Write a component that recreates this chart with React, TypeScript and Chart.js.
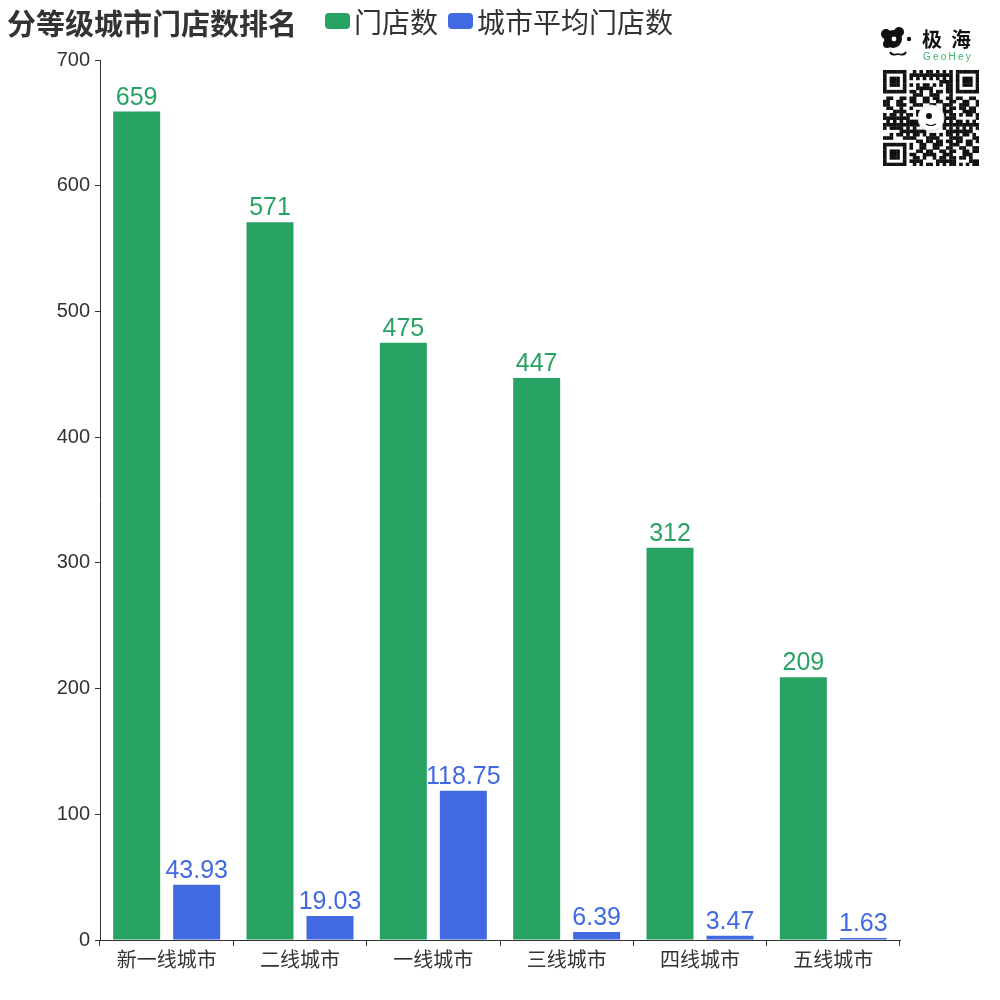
import React, { useEffect, useRef } from "react";
import { Chart, registerables } from "chart.js";

Chart.register(...registerables);

const categories = ["新一线城市", "二线城市", "一线城市", "三线城市", "四线城市", "五线城市"];
const storeCounts = [659, 571, 475, 447, 312, 209];
const avgStoreCounts = [43.93, 19.03, 118.75, 6.39, 3.47, 1.63];
const seriesNames = ["门店数", "城市平均门店数"];
const yMax = 700;
const yStep = 100;

const GREEN = "#28a262";
const BLUE = "#4169e1";
const TEXT = "#333333";
const FONT = "'Liberation Sans', 'Noto Sans CJK SC', sans-serif";

const valueLabelPlugin = {
  id: "valueLabels",
  afterDatasetsDraw(chart: any) {
    const ctx = chart.ctx;
    ctx.save();
    ctx.font = `25px ${FONT}`;
    ctx.textAlign = "center";
    ctx.textBaseline = "alphabetic";
    chart.data.datasets.forEach((ds: any, di: number) => {
      const meta = chart.getDatasetMeta(di);
      ctx.fillStyle = ds.backgroundColor;
      meta.data.forEach((bar: any, i: number) => {
        ctx.fillText(String(ds.data[i]), bar.x, bar.y - 7);
      });
    });
    ctx.restore();
  },
};

const qrRows = (() => {
  const n = 29;
  const rows: number[][] = [];
  for (let r = 0; r < n; r++) {
    const row: number[] = [];
    for (let c = 0; c < n; c++) {
      const finder = (rr: number, cc: number) => {
        const inR = r - rr, inC = c - cc;
        if (inR < 0 || inR > 6 || inC < 0 || inC > 6) return -1;
        if (inR === 0 || inR === 6 || inC === 0 || inC === 6) return 1;
        if (inR >= 2 && inR <= 4 && inC >= 2 && inC <= 4) return 1;
        return 0;
      };
      let v = finder(0, 0);
      if (v < 0) v = finder(0, n - 7);
      if (v < 0) v = finder(n - 7, 0);
      if (v < 0) {
        if ((r === 7 && c < 8) || (c === 7 && r < 8) || (r === 7 && c > n - 9) || (c === n - 8 && r < 8) || (r === n - 8 && c < 8) || (c === 7 && r > n - 9)) v = 0;
        else if (r >= 11 && r <= 17 && c >= 11 && c <= 17) v = 0;
        else v = ((r * 5 + c * 11 + r * c * 3 + ((r * c) >> 2)) % 7) < 4 ? 1 : 0;
      }
      row.push(v);
    }
    rows.push(row);
  }
  return rows;
})();

function Logo() {
  const size = 96;
  const cell = size / 29;
  return (
    <div style={{ position: "absolute", left: 878, top: 22, width: 110, height: 150 }}>
      <svg width={40} height={34} style={{ position: "absolute", left: 2, top: 4 }}>
        <circle cx={13} cy={13} r={9} fill="#111" />
        <circle cx={6} cy={8} r={5} fill="#111" />
        <circle cx={19} cy={6} r={5} fill="#111" />
        <circle cx={7} cy={18} r={4} fill="#111" />
        <circle cx={14} cy={13} r={2.4} fill="#fff" />
        <circle cx={29} cy={13} r={2.2} fill="#111" />
        <path d="M10 26 Q12 30 18 28 Q24 30 26 26" stroke="#111" strokeWidth={1.8} fill="none" />
      </svg>
      <div style={{ position: "absolute", left: 44, top: 2, font: `bold 20px 'Noto Sans CJK SC', sans-serif`, color: "#111", letterSpacing: 9, whiteSpace: "nowrap" }}>极海</div>
      <div style={{ position: "absolute", left: 45, top: 29, font: `10px ${FONT}`, color: "#3cb371", letterSpacing: 2.2, whiteSpace: "nowrap" }}>GeoHey</div>
      <svg width={size} height={size} style={{ position: "absolute", left: 5, top: 48 }}>
        {qrRows.map((row, r) =>
          row.map((v, c) =>
            v ? <rect key={r + "-" + c} x={c * cell} y={r * cell} width={cell + 0.3} height={cell + 0.3} fill="#111" /> : null
          )
        )}
        <circle cx={size / 2} cy={size / 2} r={13} fill="#fff" stroke="#ddd" />
        <circle cx={size / 2 - 2} cy={size / 2 - 2} r={3} fill="#111" />
        <path d={`M${size / 2 - 5} ${size / 2 + 6} Q${size / 2} ${size / 2 + 9} ${size / 2 + 5} ${size / 2 + 6}`} stroke="#111" strokeWidth={1.2} fill="none" />
      </svg>
    </div>
  );
}

export default function App() {
  const ref = useRef<HTMLCanvasElement>(null);

  useEffect(() => {
    if (!ref.current) return;
    const chart = new Chart(ref.current, {
      type: "bar",
      data: {
        labels: categories,
        datasets: [
          { label: seriesNames[0], data: storeCounts, backgroundColor: GREEN, borderWidth: 0 },
          { label: seriesNames[1], data: avgStoreCounts, backgroundColor: BLUE, borderWidth: 0 },
        ],
      },
      options: {
        responsive: false,
        animation: false,
        layout: { padding: { left: 0, right: 100, top: 60, bottom: 0 } },
        datasets: { bar: { categoryPercentage: 0.9, barPercentage: 0.783 } },
        plugins: { legend: { display: false }, title: { display: false }, tooltip: { enabled: false } },
        scales: {
          x: {
            offset: true,
            grid: { display: true, drawOnChartArea: false, drawTicks: true, tickLength: 6, color: TEXT, offset: true },
            border: { display: true, color: TEXT, width: 1 },
            ticks: { color: TEXT, font: { size: 20, family: FONT }, padding: 3, maxRotation: 0 },
            afterFit: (s: any) => { s.height = 60; },
          },
          y: {
            min: 0,
            max: yMax,
            grid: { display: true, drawOnChartArea: false, drawTicks: true, tickLength: 5, color: TEXT },
            border: { display: true, color: TEXT, width: 1 },
            ticks: { stepSize: yStep, color: TEXT, font: { size: 20, family: FONT }, padding: 5 },
            afterFit: (s: any) => { s.width = 100; },
          },
        },
      },
      plugins: [valueLabelPlugin],
    } as any);
    return () => chart.destroy();
  }, []);

  return (
    <div style={{ position: "absolute", left: 0, top: 0, width: 1000, height: 1000, background: "#fff" }}>
      <canvas ref={ref} width={1000} height={1000} style={{ position: "absolute", left: 0, top: 0 }} />
      <div style={{ position: "absolute", left: 7, top: 1, font: `bold 29px 'Noto Sans CJK SC', sans-serif`, color: TEXT, whiteSpace: "nowrap", letterSpacing: 0 }}>
        分等级城市门店数排名
      </div>
      <div style={{ position: "absolute", left: 325, top: 1, display: "flex", alignItems: "center", font: `28px 'Noto Sans CJK SC', sans-serif`, color: TEXT, whiteSpace: "nowrap" }}>
        <span style={{ display: "inline-block", width: 25, height: 16, borderRadius: 4, background: GREEN, marginRight: 4 }} />
        <span>{seriesNames[0]}</span>
        <span style={{ display: "inline-block", width: 25, height: 16, borderRadius: 4, background: BLUE, marginLeft: 10, marginRight: 4 }} />
        <span>{seriesNames[1]}</span>
      </div>
      <Logo />
    </div>
  );
}
